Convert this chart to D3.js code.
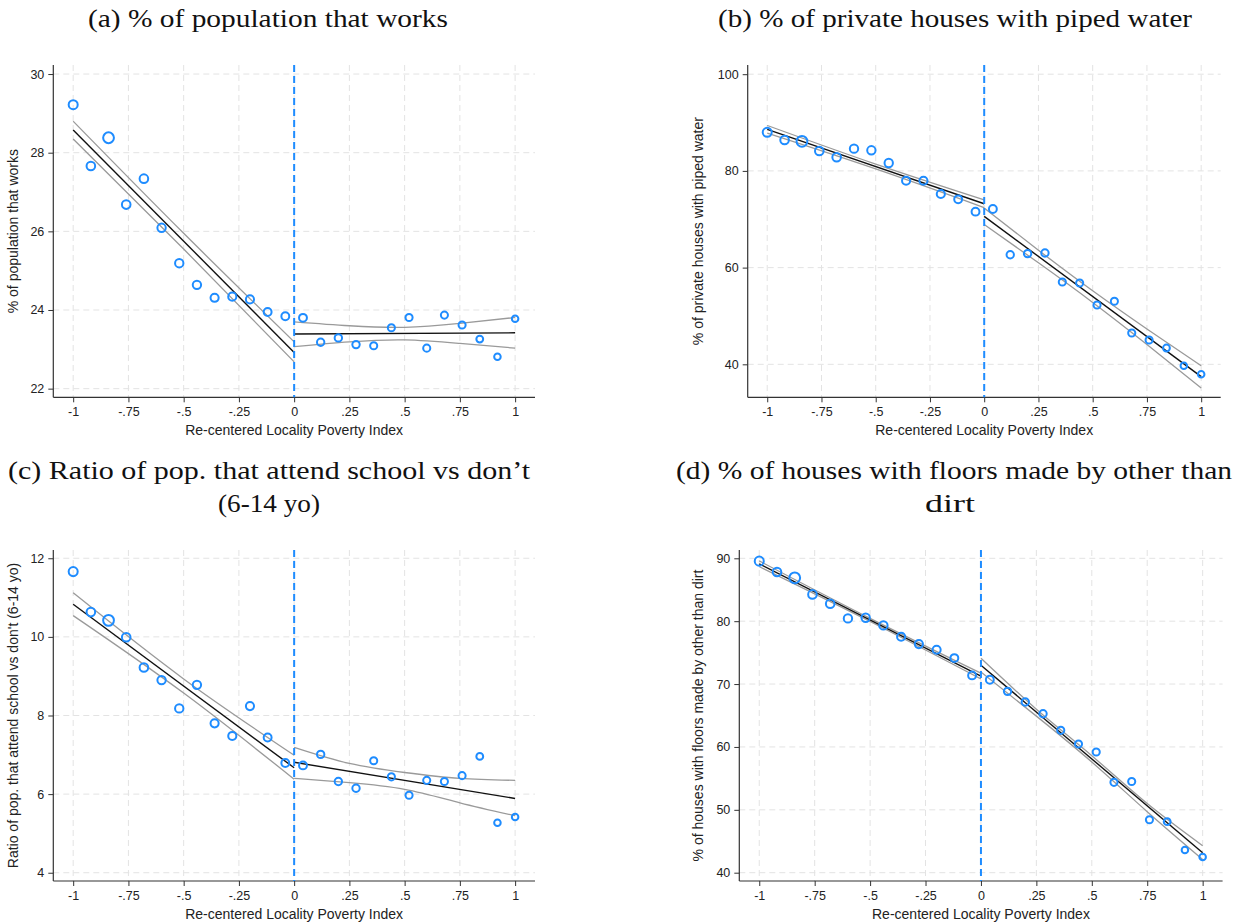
<!DOCTYPE html>
<html>
<head>
<meta charset="utf-8">
<script src="https://cdn.jsdelivr.net/npm/d3@7"></script>
<style>
  html, body { margin: 0; padding: 0; background: #fff; }
  svg { display: block; }
</style>
</head>
<body>
<svg id="fig" width="1241" height="924"></svg>
<script>
// Binned means by re-centered locality poverty index
const xBins = [-1, -0.92, -0.84, -0.76, -0.68, -0.60, -0.52, -0.44, -0.36, -0.28, -0.20, -0.12, -0.04,
               0.04, 0.12, 0.20, 0.28, 0.36, 0.44, 0.52, 0.60, 0.68, 0.76, 0.84, 0.92, 1.00];
// relative number of localities per bin (marker area)
const binWeight = [21, 19, 30, 19, 19, 18, 18, 18, 17, 17, 17, 16, 16,
                   16, 14, 14, 14, 13, 13, 13, 13, 13, 13, 12, 11, 11];

const worksPct = [29.22, 27.66, 28.38, 26.68, 27.34, 26.09, 25.19, 24.64, 24.31, 24.34, 24.27, 23.95, 23.84,
                  23.80, 23.18, 23.29, 23.12, 23.09, 23.55, 23.81, 23.03, 23.87, 23.62, 23.26, 22.81, 23.78];
const pipedWaterPct = [87.98, 86.39, 86.12, 84.12, 82.81, 84.60, 84.26, 81.63, 77.97, 77.97, 75.22, 74.12, 71.57,
                       72.12, 62.67, 62.88, 63.02, 57.02, 56.81, 52.26, 53.03, 46.47, 45.03, 43.37, 39.71, 37.93];
const schoolRatio = [11.66, 10.63, 10.42, 9.99, 9.22, 8.90, 8.18, 8.78, 7.80, 7.48, 8.24, 7.44, 6.79,
                     6.73, 7.01, 6.32, 6.15, 6.85, 6.44, 5.97, 6.35, 6.32, 6.47, 6.96, 5.27, 5.42];
const floorPct = [89.55, 87.81, 86.90, 84.26, 82.77, 80.44, 80.54, 79.33, 77.52, 76.36, 75.45, 74.13, 71.38,
                  70.68, 68.84, 67.14, 65.28, 62.64, 60.46, 59.19, 54.37, 54.50, 48.43, 48.11, 43.61, 42.50];

// Linear fits on each side of the cutoff
const fitLeftX = [-1, 0];
const fitRightX = [0, 1];
const worksFitLeft = [28.58, 22.92],   worksFitRight = [23.39, 23.42];
const waterFitLeft = [88.6, 73.2],     waterFitRight = [70.6, 37.45];
const schoolFitLeft = [10.83, 6.67],   schoolFitRight = [6.81, 5.89];
const floorFitLeft = [89.13, 71.27],   floorFitRight = [73.0, 43.18];

// 95% confidence bands
const ciLeftX = [-1, -0.5, 0];
const ciRightX = [0, 0.25, 0.5, 0.75, 1];
const worksCiLeftHi = [28.80, 25.95, 23.19],   worksCiLeftLo = [28.35, 25.55, 22.68];
const worksCiRightHi = [23.70, 23.60, 23.56, 23.66, 23.81];
const worksCiRightLo = [23.07, 23.19, 23.24, 23.15, 23.03];
const waterCiLeftHi = [89.4, 81.4, 74.0],      waterCiLeftLo = [87.8, 80.4, 72.4];
const waterCiRightHi = [72.3, 63.6, 55.2, 47.3, 39.7];
const waterCiRightLo = [68.9, 61.0, 52.8, 44.1, 35.1];
const schoolCiLeftHi = [11.12, 8.93, 6.99],    schoolCiLeftLo = [10.54, 8.57, 6.38];
const schoolCiRightHi = [7.19, 6.78, 6.55, 6.40, 6.35];
const schoolCiRightLo = [6.40, 6.29, 6.12, 5.78, 5.45];
const floorCiLeftHi = [89.58, 80.45, 71.72],   floorCiLeftLo = [88.68, 79.95, 70.82];
const floorCiRightHi = [74.1, 66.0, 58.6, 51.0, 44.3];
const floorCiRightLo = [71.9, 64.9, 57.6, 49.7, 42.1];

// Axis ticks
const xTicks = [-1, -0.75, -0.5, -0.25, 0, 0.25, 0.5, 0.75, 1];
const xTickLabels = ["-1", "-.75", "-.5", "-.25", "0", ".25", ".5", ".75", "1"];
const worksTicks = [22, 24, 26, 28, 30];
const waterTicks = [40, 60, 80, 100];
const schoolTicks = [4, 6, 8, 10, 12];
const floorTicks = [40, 50, 60, 70, 80, 90];

const xTitle = "Re-centered Locality Poverty Index";

// title lines: [text, centre x, baseline y, width]
const panels = [
  { title: [["(a) % of population that works", 268, 27, 360]],
    yTitle: "% of population that works", yTitleX: 14,
    box: { left: 53.3, top: 65, width: 481.7, height: 332.3 }, yDomain: [21.78, 30.23], yTicks: worksTicks,
    values: worksPct, fitL: worksFitLeft, fitR: worksFitRight,
    ciLH: worksCiLeftHi, ciLL: worksCiLeftLo, ciRH: worksCiRightHi, ciRL: worksCiRightLo },
  { title: [["(b) % of private houses with piped water", 955, 27, 474]],
    yTitle: "% of private houses with piped water", yTitleX: 699,
    box: { left: 747.7, top: 65, width: 473, height: 332.3 }, yDomain: [33.18, 101.9], yTicks: waterTicks,
    values: pipedWaterPct, fitL: waterFitLeft, fitR: waterFitRight,
    ciLH: waterCiLeftHi, ciLL: waterCiLeftLo, ciRH: waterCiRightHi, ciRL: waterCiRightLo },
  { title: [["(c) Ratio of pop. that attend school vs don\u2019t", 269, 479, 522], ["(6-14 yo)", 269, 512, 102]],
    yTitle: "Ratio of pop. that attend school vs don't (6-14 yo)", yTitleX: 14,
    box: { left: 53.3, top: 550, width: 481.7, height: 331 }, yDomain: [3.79, 12.21], yTicks: schoolTicks,
    values: schoolRatio, fitL: schoolFitLeft, fitR: schoolFitRight,
    ciLH: schoolCiLeftHi, ciLL: schoolCiLeftLo, ciRH: schoolCiRightHi, ciRL: schoolCiRightLo },
  { title: [["(d) % of houses with floors made by other than", 954, 479, 556], ["dirt", 950, 512, 50]],
    yTitle: "% of houses with floors made by other than dirt", yTitleX: 699,
    box: { left: 739.3, top: 550, width: 483.3, height: 331 }, yDomain: [38.68, 91.32], yTicks: floorTicks,
    values: floorPct, fitL: floorFitLeft, fitR: floorFitRight,
    ciLH: floorCiLeftHi, ciLL: floorCiLeftLo, ciRH: floorCiRightHi, ciRL: floorCiRightLo }
];

const svg = d3.select("#fig");
const blue = "#1e8cff";
const axisColor = "#333";
const gridColor = "#e3e3e3";
const sans = "'Liberation Sans', Arial, sans-serif";
const rScale = d3.scaleSqrt().domain([0, d3.max(binWeight)]).range([0, 5.4]);

panels.forEach(p => {
  const b = p.box;
  const x = d3.scaleLinear().domain([-1.09, 1.09]).range([b.left, b.left + b.width]);
  const y = d3.scaleLinear().domain(p.yDomain).range([b.top + b.height, b.top]);
  const g = svg.append("g");

  // title (serif, centred)
  p.title.forEach(([line, cx, by, w]) => {
    g.append("text")
      .attr("x", cx).attr("y", by)
      .attr("text-anchor", "middle")
      .attr("textLength", w).attr("lengthAdjust", "spacingAndGlyphs")
      .style("font-family", "'Liberation Serif', 'DejaVu Serif', serif")
      .style("font-size", "26px").attr("fill", "#111").text(line);
  });

  // dashed grid
  g.append("g").selectAll("line").data(p.yTicks).join("line")
    .attr("x1", b.left).attr("x2", b.left + b.width)
    .attr("y1", d => y(d)).attr("y2", d => y(d))
    .attr("stroke", gridColor).attr("stroke-width", 1).attr("stroke-dasharray", "6,4");
  g.append("g").selectAll("line").data(xTicks).join("line")
    .attr("x1", d => x(d)).attr("x2", d => x(d))
    .attr("y1", b.top).attr("y2", b.top + b.height)
    .attr("stroke", gridColor).attr("stroke-width", 1).attr("stroke-dasharray", "6,4");

  // axes
  const xAxis = g.append("g").attr("transform", `translate(0,${b.top + b.height})`)
    .call(d3.axisBottom(x).tickValues(xTicks).tickSize(5).tickPadding(5)
      .tickFormat((d, i) => xTickLabels[i]));
  const yAxis = g.append("g").attr("transform", `translate(${b.left},0)`)
    .call(d3.axisLeft(y).tickValues(p.yTicks).tickSize(5).tickPadding(4).tickFormat(d3.format("d")));
  [xAxis, yAxis].forEach(ax => {
    ax.select(".domain").attr("stroke", axisColor).attr("stroke-width", 1.2);
    ax.selectAll(".tick line").attr("stroke", axisColor);
    ax.selectAll(".tick text").attr("fill", "#222")
      .style("font-family", sans).style("font-size", "12.5px");
  });
  // axis lines without end caps
  xAxis.select(".domain").attr("d", `M${b.left},0H${b.left + b.width}`);
  yAxis.select(".domain").attr("d", `M0,${b.top}V${b.top + b.height}`);

  g.append("text")
    .attr("x", b.left + b.width / 2).attr("y", b.top + b.height + 38)
    .attr("text-anchor", "middle")
    .style("font-family", sans).style("font-size", "14px")
    .attr("fill", "#222").text(xTitle);
  g.append("text")
    .attr("transform", `translate(${p.yTitleX},${b.top + b.height / 2}) rotate(-90)`)
    .attr("text-anchor", "middle").attr("dominant-baseline", "middle")
    .style("font-family", sans).style("font-size", "14px")
    .attr("fill", "#222").text(p.yTitle);

  // confidence bands
  const band = d3.line().x(d => x(d[0])).y(d => y(d[1])).curve(d3.curveNatural);
  [[ciLeftX, p.ciLH], [ciLeftX, p.ciLL], [ciRightX, p.ciRH], [ciRightX, p.ciRL]].forEach(([xs, ys]) => {
    g.append("path").datum(d3.zip(xs, ys)).attr("d", band)
      .attr("fill", "none").attr("stroke", "#9a9a9a").attr("stroke-width", 1.3);
  });

  // fitted lines
  const straight = d3.line().x(d => x(d[0])).y(d => y(d[1]));
  [[fitLeftX, p.fitL], [fitRightX, p.fitR]].forEach(([xs, ys]) => {
    g.append("path").datum(d3.zip(xs, ys)).attr("d", straight)
      .attr("fill", "none").attr("stroke", "#111").attr("stroke-width", 1.4);
  });

  // cutoff
  g.append("line")
    .attr("x1", x(0)).attr("x2", x(0)).attr("y1", b.top).attr("y2", b.top + b.height)
    .attr("stroke", blue).attr("stroke-width", 2).attr("stroke-dasharray", "7,4");

  // binned means
  g.append("g").selectAll("circle").data(d3.range(xBins.length)).join("circle")
    .attr("cx", i => x(xBins[i])).attr("cy", i => y(p.values[i]))
    .attr("r", i => rScale(binWeight[i]))
    .attr("fill", "none").attr("stroke", blue).attr("stroke-width", 2);
});
</script>
</body>
</html>
